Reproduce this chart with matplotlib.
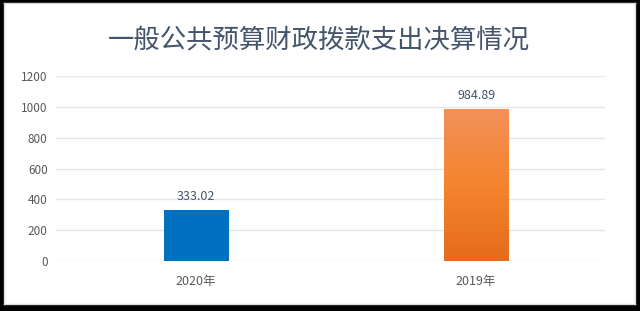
import matplotlib
matplotlib.use("Agg")
import matplotlib.pyplot as plt
import numpy as np
from matplotlib.colors import LinearSegmentedColormap

plt.rcParams['font.family'] = ['Noto Sans CJK SC', 'DejaVu Sans']

categories = ["2020年", "2019年"]
values = [333.02, 984.89]
labels = ["333.02", "984.89"]
yticks = [0, 200, 400, 600, 800, 1000, 1200]
title = "一般公共预算财政拨款支出决算情况"

W, H = 640, 311
fig = plt.figure(figsize=(W / 100, H / 100), dpi=100)
fig.patch.set_facecolor("black")

# white card as background axes
bg = fig.add_axes([4 / W, (H - 304) / H, (635 - 4) / W, (304 - 3) / H], zorder=-1)
bg.set_xticks([]); bg.set_yticks([])
bg.set_facecolor("white")
for s in bg.spines.values():
    s.set_color("#d9d9d9")
    s.set_linewidth(1.0)

ax = fig.add_axes([56 / W, (H - 261) / H, (605 - 56) / W, (261 - 76) / H], zorder=1)
ax.set_facecolor("none")
ax.set_yticks(yticks)
ax.set_yticklabels([str(t) for t in yticks], fontsize=8.5, color="#595959")
ax.set_xticks([0, 1])
ax.set_xticklabels(categories, fontsize=9, color="#595959")
ax.tick_params(length=0, pad=6)
ax.tick_params(axis='x', pad=10)
for s in ax.spines.values():
    s.set_visible(False)
ax.grid(axis='y', color="#e3e6ea", linewidth=1.0)
ax.set_axisbelow(True)

bw = 0.232
# blue bar
ax.bar([0], [values[0]], width=bw, color="#0070c0", zorder=2)

# orange gradient bar
grad = np.linspace(0, 1, 256).reshape(-1, 1)
cmap = LinearSegmentedColormap.from_list("o", ["#e46c1c", "#f5842e", "#f2915a"])
ax.imshow(grad, cmap=cmap, aspect='auto', origin='lower',
          extent=[1 - bw / 2, 1 + bw / 2, 0, values[1]], zorder=2)
ax.set_xlim(-0.5, 1.46)
ax.set_ylim(0, 1200)

for i, (v, lab) in enumerate(zip(values, labels)):
    ax.text(i, v + 45, lab, ha='center', va='bottom', fontsize=9, color="#44546a")

fig.text(0.498, (H - 40) / H, title, ha='center', va='center', fontsize=19,
         color="#44546a", fontweight='medium')

fig.savefig("out.png", dpi=100, facecolor=fig.get_facecolor())
